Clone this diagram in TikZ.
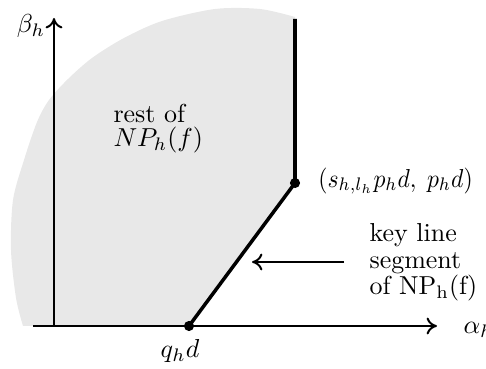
\documentclass[tikz,border=0pt]{standalone}
\usepackage{fontspec}
\usetikzlibrary{arrows.meta}
\definecolor{regiongray}{HTML}{E8E8E8}
\tikzset{
  axisline/.style={line width=0.75pt, -{To[length=4pt,width=6.5pt]}},
  boundary/.style={line width=1.35pt},
  vertex/.style={circle, fill=black, inner sep=0pt, minimum size=3.9pt},
  lbl/.style={inner sep=0pt},
  pointer/.style={line width=0.75pt, -{To[length=4pt,width=6.5pt]}}
}
\begin{document}
\begin{tikzpicture}[x=0.385pt,y=-0.385pt]
\useasboundingbox (0,0) rectangle (486,369);
\coordinate (T) at (295,19);
\coordinate (P) at (295,183);
\coordinate (Q) at (189,326);
\coordinate (O) at (54,326);
\coordinate (XS) at (33,326);
\coordinate (XE) at (437,326);
\coordinate (YE) at (54,18);
\coordinate (AS) at (344,262);
\coordinate (AE) at (252,262);
% region
\fill[regiongray] (23,326) -- plot[smooth] coordinates {(23,326) (16,298) (11,250) (13,200) (24,160) (37,122) (49,100) (68,79) (92,58) (124,38) (162,21) (215,9) (260,9) (295,17)} -- (P) -- (Q) -- cycle;
% axes
\draw[axisline] (XS) -- (XE);
\draw[axisline] (O) -- (YE);
% boundary
\draw[boundary] (T) -- (P) -- (Q);
\node[vertex] (p) at (P) {};
\node[vertex] (q) at (Q) {};
% pointer
\draw[pointer] (AS) -- (AE);
% labels
\node[lbl, anchor=base] (beta) at (31,33) {$\beta_h$};
\node[lbl, anchor=base west] (alpha) at (463,334) {$\alpha_h$};
\node[lbl, anchor=north west, align=left] (rest) at (113,104) {rest of\\[-3pt]$NP_h(f)$};
\node[lbl, anchor=west, xscale=0.91, transform shape] (plabel) at (318,181) {$(s_{h,l_h}p_hd,\;p_hd)$};
\node[lbl, anchor=base] (qlabel) at (180,358) {$q_hd$};
\node[lbl, anchor=north west, align=left] (key) at (369,223) {key line\\[-1.8pt]segment\\[-1.8pt]of $\mathrm{NP_h(f)}$};
\end{tikzpicture}
\end{document}
